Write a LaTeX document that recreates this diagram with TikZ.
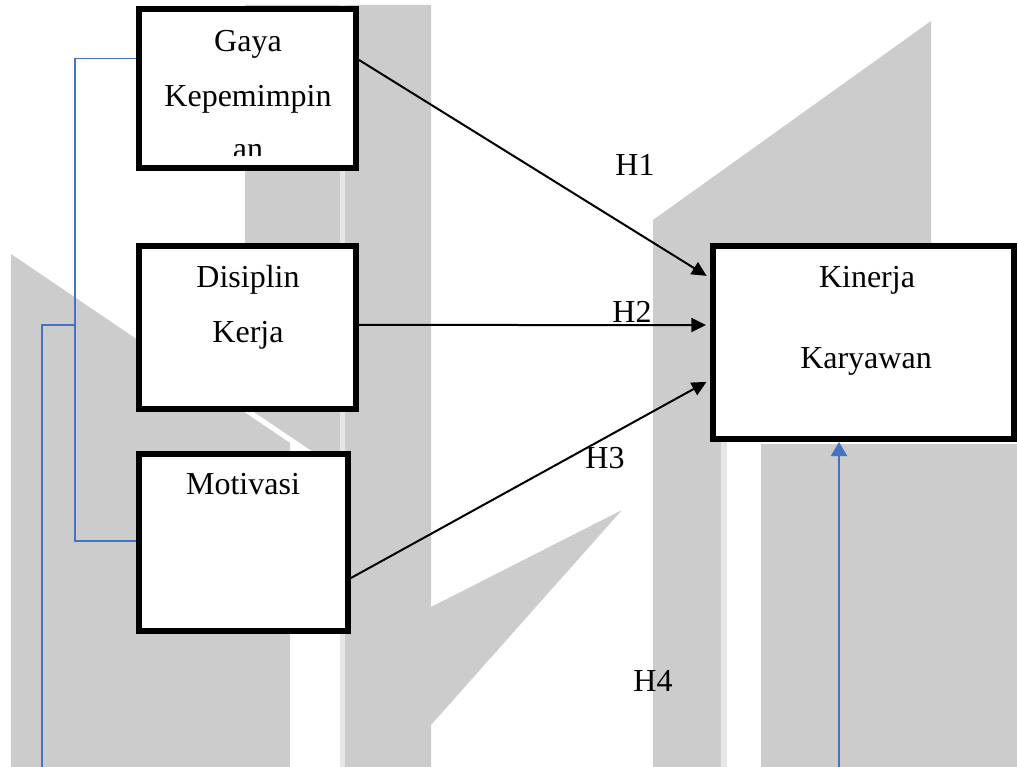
\documentclass[tikz,border=0pt]{standalone}
\usepackage{fontspec}
\setmainfont{Liberation Serif}
\usetikzlibrary{arrows.meta}
\definecolor{wmgrey}{HTML}{CCCCCC}
\definecolor{wmseam}{HTML}{E6E6E6}
\definecolor{blueline}{HTML}{4472C4}

\begin{document}
\begin{tikzpicture}[
    x=0.75pt, y=-0.75pt,
    box/.style={draw=black, line width=4.5pt, fill=white, inner sep=0pt},
    txt/.style={font=\fontsize{24}{28}\selectfont, anchor=base, inner sep=0pt},
    arr/.style={-{Triangle[length=11pt,width=10.5pt]}, line width=1.5pt,
                shorten >=3pt},
    link/.style={blueline, line width=1pt},
    uparr/.style={-{Triangle[length=10.5pt,width=12pt]}, blueline,
                  line width=1.7pt},
    wm/.style={fill=wmgrey},
]
\useasboundingbox (0,0) rectangle (1017,767);

% --- watermark in the background ---
\fill[wm] (11,254) -- (290,443) -- (290,767) -- (11,767) -- cycle;
\fill[wm] (245,5) -- (431,5) -- (431,767) -- (340,767) -- (340,470)
    -- (245,406) -- cycle;
\fill[wmseam] (340,5) rectangle (345,767);
\fill[wm] (431,607) -- (622,510) -- (431,725) -- cycle;
\fill[wm] (653,220) -- (931,21) -- (931,440) -- (721,440) -- (721,767)
    -- (653,767) -- cycle;
\fill[wmseam] (721,440) rectangle (727,767);
\fill[wm] (761,444) rectangle (1017,767);

% --- variables ---
\node[box, minimum width=162.75pt, minimum height=119.25pt]
    (gaya) at (247.5,88.5) {};
\node[box, minimum width=162.75pt, minimum height=122.25pt]
    (disiplin) at (247.5,327.5) {};
\node[box, minimum width=156.75pt, minimum height=132.75pt]
    (motivasi) at (243.5,542.5) {};
\node[box, minimum width=225.75pt, minimum height=144.75pt]
    (kinerja) at (863.5,342.5) {};

% box texts
\node[txt] (gayaA) at (248,52) {Gaya};
\node[txt] (gayaB) at (248,107) {Kepemimpin};
\begin{scope}
    \clip (142,12) rectangle (354,155);
    \node[txt] (gayaC) at (248,159) {an};
\end{scope}
\node[txt] (disA) at (248,287) {Disiplin};
\node[txt] (disB) at (248,342) {Kerja};
\node[txt] (motA) at (243,494) {Motivasi};
\node[txt] (kinA) at (867,287) {Kinerja};
\node[txt] (kinB) at (866,368) {Karyawan};

% --- hypotheses ---
\draw[arr] ([yshift=21.4pt]gaya.east) -- ([yshift=48.4pt]kinerja.west);
\draw[arr] ([yshift=1.9pt]disiplin.east) -- ([yshift=13.1pt]kinerja.west);
\draw[arr] ([yshift=-26.6pt]motivasi.east) -- ([yshift=-28.1pt]kinerja.west);

\node[txt] (h1) at (635,175) {H1};
\node[txt] (h2) at (632,322) {H2};
\node[txt] (h3) at (605,468) {H3};
\node[txt] (h4) at (653,691) {H4};

% blue links
\coordinate (split) at (75,325);
\coordinate (leftEnd) at (42,767);
\coordinate (h4foot) at (839,767);
\draw[link] ([yshift=22.5pt]gaya.west) -- ++(-61,0)
    |- ([yshift=1.1pt]motivasi.west);
\draw[link] (split) -| (leftEnd);
\draw[uparr] (h4foot) -- (h4foot |- kinerja.south);

\end{tikzpicture}
\end{document}
